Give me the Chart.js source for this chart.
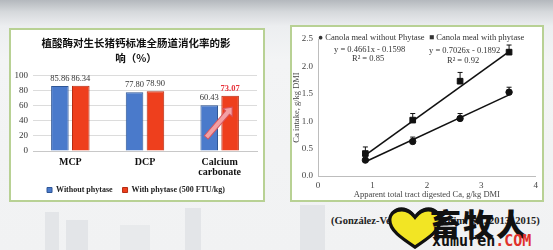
<!DOCTYPE html>
<html>
<head>
<meta charset="utf-8">
<script src="https://cdn.jsdelivr.net/npm/chart.js@4.4.1/dist/chart.umd.min.js"></script>
<style>
  html, body { margin: 0; padding: 0; }
  body {
    width: 553px; height: 250px; position: relative; overflow: hidden;
    background: linear-gradient(#b4b8bd 0px, #d6d9dc 12px, #eceef0 26px, #f3f4f5 60px, #f1f2f3 100%);
    font-family: "Liberation Serif", serif;
  }
  .box { position: absolute; background: #fff; border: 2px solid #b8d194; box-sizing: border-box; }
  .city { position: absolute; background: #e3e5e8; }
  .txt { position: absolute; white-space: nowrap; color: #333; font-size: 8.5px; }
  canvas { position: absolute; }
</style>
</head>
<body>
<div class="city" style="left:45px;top:212px;width:14px;height:38px"></div>
<div class="city" style="left:66px;top:220px;width:22px;height:30px"></div>
<div class="city" style="left:185px;top:208px;width:16px;height:42px"></div>
<div class="city" style="left:300px;top:205px;width:25px;height:45px"></div>
<div class="city" style="left:120px;top:225px;width:30px;height:25px;background:#e8eaec"></div>

<div class="box" style="left:9px;top:28px;width:256px;height:174px"></div>
<div class="box" style="left:290px;top:25px;width:254px;height:177px"></div>

<canvas id="barChart" width="252" height="174" style="left:11px;top:30px"></canvas>
<canvas id="lineChart" width="250" height="173" style="left:292px;top:27px"></canvas>

<div class="txt" style="left:318px;top:32px">&#9679; Canola meal without Phytase</div>
<div class="txt" style="left:429px;top:32px">&#9632; Canola meal with phytase</div>
<div class="txt" style="left:334px;top:44px">y = 0.4661x - 0.1598</div>
<div class="txt" style="left:352px;top:53px">R² = 0.85</div>
<div class="txt" style="left:429px;top:45px">y = 0.7026x - 0.1892</div>
<div class="txt" style="left:447px;top:55px">R² = 0.92</div>

<div class="txt" style="left:331px;top:215px;font-size:10.5px;font-weight:bold;color:#222">(González-Vega <i>et al.</i>, J. Anim. Sci. 2013, 2015)</div>

<svg style="position:absolute;left:384px;top:206px" width="62" height="43" viewBox="0 0 66 46">
  <path d="M33 44 C18 34 6 26 6 15 C6 8 12 4 19 4 C25 4 30 8 33 12 C36 8 41 4 47 4 C54 4 60 8 60 15 C60 26 48 34 33 44 Z" fill="#f2e524" stroke="#111" stroke-width="3.5"/>
  <path d="M8 8 Q18 -2 30 8" fill="none" stroke="#111" stroke-width="3"/>
  <path d="M36 8 Q48 -2 58 8" fill="none" stroke="#111" stroke-width="3"/>
</svg>
<div class="txt" style="left:430px;top:200px;font-family:'Noto Sans CJK SC';font-weight:900;font-size:31px;color:#111;letter-spacing:2px">畜牧人</div>
<div class="txt" style="left:432px;top:232px;font-family:'DejaVu Sans Mono';font-weight:bold;font-size:15px;color:#111">xumuren<span style="color:#e0312b">.COM</span></div>

<script>
// ---- left chart: standardized total tract digestibility of Ca ----
const categorias = ["MCP", "DCP", ["Calcium", "carbonate"]];
const sinFitasa = [85.86, 77.80, 60.43];
const conFitasa = [86.34, 78.90, 73.07];
const ticksBarra = [0, 20, 40, 60, 80, 100];

// ---- right chart: Ca intake vs digested Ca ----
const xPuntos = [0.87, 1.74, 2.61, 3.51];
const sinFitasaCa = [0.29, 0.63, 1.05, 1.53];
const conFitasaCa = [0.41, 1.02, 1.73, 2.26];
const errorSin = [0.06, 0.08, 0.09, 0.09];
const errorCon = [0.12, 0.12, 0.16, 0.13];
const xTendencia = [0.87, 3.51];
const tendenciaSin = [0.26, 1.48];
const tendenciaCon = [0.38, 2.27];

const serif = "'Liberation Serif', serif";

// value labels over the bars + the pink arrow
const etiquetasBarras = {
    id: "etiquetasBarras",
    afterDatasetsDraw(chart) {
        const ctx = chart.ctx;
        ctx.save();
        ctx.textAlign = "center";
        ctx.textBaseline = "bottom";
        chart.data.datasets.forEach((ds, i) => {
            const meta = chart.getDatasetMeta(i);
            meta.data.forEach((bar, j) => {
                const ultimo = (i === 1 && j === ds.data.length - 1);
                ctx.fillStyle = ultimo ? "#e8323a" : "#333";
                ctx.font = (ultimo ? "bold " : "") + "8.5px " + serif;
                ctx.fillText(ds.data[j].toFixed(2), bar.x, bar.y - 3);
            });
        });

        // arrow from blue to red bar of calcium carbonate
        const y = chart.scales.y;
        const azul = chart.getDatasetMeta(0).data[2];
        const rojo = chart.getDatasetMeta(1).data[2];
        const x0 = azul.x - 3, y0 = y.getPixelForValue(18);
        const x1 = rojo.x + 2, y1 = y.getPixelForValue(58);
        const ang = Math.atan2(y1 - y0, x1 - x0);
        const len = Math.hypot(x1 - x0, y1 - y0);
        ctx.translate(x0, y0);
        ctx.rotate(ang);
        ctx.beginPath();
        ctx.moveTo(0, -2.5);
        ctx.lineTo(len - 7, -2.5);
        ctx.lineTo(len - 7, -6);
        ctx.lineTo(len, 0);
        ctx.lineTo(len - 7, 6);
        ctx.lineTo(len - 7, 2.5);
        ctx.lineTo(0, 2.5);
        ctx.closePath();
        ctx.fillStyle = "#f3a0a4";
        ctx.strokeStyle = "#d9545c";
        ctx.lineWidth = 1;
        ctx.fill();
        ctx.stroke();
        ctx.restore();
    }
};

new Chart(document.getElementById("barChart"), {
    type: "bar",
    data: {
        labels: categorias,
        datasets: [{
            label: "Without phytase",
            data: sinFitasa,
            backgroundColor: "#4a7acb",
            borderColor: "#2e5696",
            borderWidth: 1,
            categoryPercentage: 0.56,
            barPercentage: 0.84
        }, {
            label: "With phytase (500 FTU/kg)",
            data: conFitasa,
            backgroundColor: "#ee3f1d",
            borderColor: "#b52c12",
            borderWidth: 1,
            categoryPercentage: 0.56,
            barPercentage: 0.84
        }]
    },
    options: {
        responsive: false,
        animation: false,
        layout: { padding: { left: 4, right: 6, top: 0, bottom: 0 } },
        scales: {
            x: {
                grid: { display: false, tickLength: 0 },
                border: { color: "#c8c8c8" },
                ticks: { color: "#111", font: { family: serif, size: 10, weight: "bold", lineHeight: 1.05 }, padding: 6 },
                afterFit: s => { s.height = 25; }
            },
            y: {
                min: 0, max: 100,
                afterBuildTicks: s => { s.ticks = ticksBarra.map(v => ({ value: v })); },
                grid: { color: "#dcdcdc", drawTicks: false, tickLength: 0 },
                border: { display: false },
                ticks: { autoSkip: false, color: "#333", font: { family: serif, size: 9 }, padding: 5 },
                afterFit: s => { s.width = 18; }
            }
        },
        plugins: {
            title: {
                display: true,
                text: ["植酸酶对生长猪钙标准全肠道消化率的影", "响（%）"],
                color: "#111",
                font: { family: "'Noto Sans CJK SC'", size: 10.5, weight: "bold", lineHeight: 1.4 },
                padding: { top: 6, bottom: 10 }
            },
            legend: {
                position: "bottom",
                labels: {
                    boxWidth: 5, boxHeight: 5, padding: 10,
                    color: "#222",
                    font: { family: serif, size: 8, weight: "bold", lineHeight: 1 }
                }
            },
            tooltip: { enabled: false }
        }
    },
    plugins: [etiquetasBarras]
});

// error bars over the scatter points
const barrasError = {
    id: "barrasError",
    afterDatasetsDraw(chart) {
        const ctx = chart.ctx;
        const y = chart.scales.y;
        const errores = [errorSin, errorCon];
        ctx.save();
        ctx.strokeStyle = "#111";
        ctx.lineWidth = 1;
        errores.forEach((err, i) => {
            const meta = chart.getDatasetMeta(i);
            meta.data.forEach((p, j) => {
                const v = chart.data.datasets[i].data[j].y;
                const yt = y.getPixelForValue(v + err[j]);
                ctx.beginPath();
                ctx.moveTo(p.x, p.y);
                ctx.lineTo(p.x, yt);
                ctx.moveTo(p.x - 2.5, yt);
                ctx.lineTo(p.x + 2.5, yt);
                ctx.stroke();
            });
        });
        ctx.restore();
    }
};

new Chart(document.getElementById("lineChart"), {
    type: "scatter",
    data: {
        datasets: [{
            label: "Canola meal without Phytase",
            data: xPuntos.map((x, i) => ({ x: x, y: sinFitasaCa[i] })),
            pointStyle: "circle",
            pointRadius: 3.2,
            backgroundColor: "#111",
            borderColor: "#111"
        }, {
            label: "Canola meal with phytase",
            data: xPuntos.map((x, i) => ({ x: x, y: conFitasaCa[i] })),
            pointStyle: "rect",
            pointRadius: 4,
            backgroundColor: "#111",
            borderColor: "#111"
        }, {
            type: "line",
            data: xTendencia.map((x, i) => ({ x: x, y: tendenciaSin[i] })),
            borderColor: "#111",
            borderWidth: 1.6,
            pointRadius: 0
        }, {
            type: "line",
            data: xTendencia.map((x, i) => ({ x: x, y: tendenciaCon[i] })),
            borderColor: "#111",
            borderWidth: 1.6,
            pointRadius: 0
        }]
    },
    options: {
        responsive: false,
        animation: false,
        layout: { padding: { left: 0, right: 0, top: 12, bottom: 0 } },
        scales: {
            x: {
                type: "linear",
                min: 0, max: 4,
                grid: { display: false, tickLength: 0 },
                border: { color: "#bdbdbd" },
                ticks: { stepSize: 1, color: "#444", font: { family: serif, size: 9 }, padding: 4 },
                title: { display: true, text: "Apparent total tract digested Ca, g/kg DMI", color: "#444", font: { family: serif, size: 8.5 }, padding: { top: 6, bottom: 0 } },
                afterFit: s => { s.height = 24; }
            },
            y: {
                min: 0, max: 2.5,
                grid: { display: false, tickLength: 0 },
                border: { color: "#bdbdbd" },
                ticks: { stepSize: 0.5, color: "#444", font: { family: serif, size: 9 }, padding: 5, callback: v => v.toFixed(1) },
                title: { display: true, text: "Ca intake, g/kg DMI", color: "#444", font: { family: serif, size: 8.5 }, padding: { top: 0, bottom: 2 } },
                afterFit: s => { s.width = 26; }
            }
        },
        plugins: {
            legend: { display: false },
            tooltip: { enabled: false }
        }
    },
    plugins: [barrasError]
});
</script>
</body>
</html>
